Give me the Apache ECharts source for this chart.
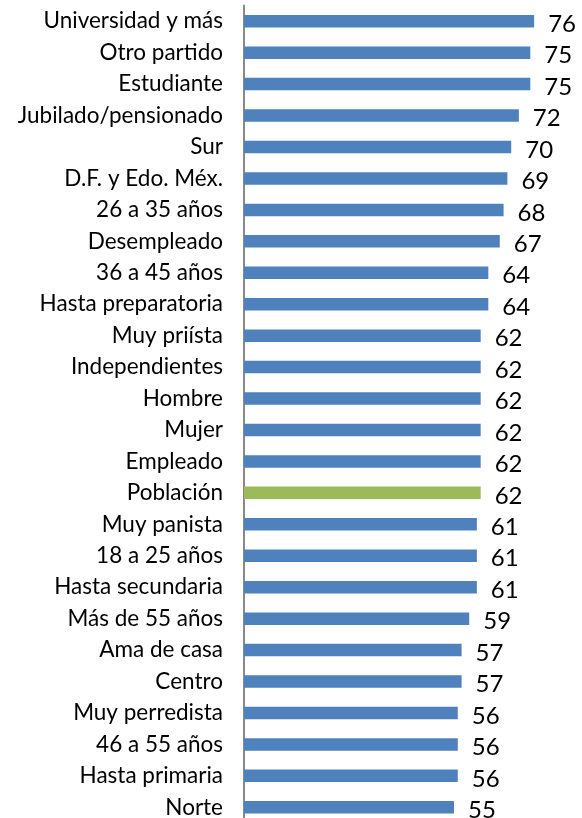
<!DOCTYPE html>
<html>
<head>
<meta charset="utf-8">
<script src="https://cdn.jsdelivr.net/npm/echarts@6/dist/echarts.min.js"></script>
<style>
  html, body { margin: 0; padding: 0; background: #fff; }
  #chart { width: 582px; height: 818px; }
</style>
</head>
<body>
<div id="chart"></div>
<script>
// categories, top to bottom
const categories = [
  'Universidad y más', 'Otro partido', 'Estudiante', 'Jubilado/pensionado', 'Sur',
  'D.F. y Edo. Méx.', '26 a 35 años', 'Desempleado', '36 a 45 años', 'Hasta preparatoria',
  'Muy priísta', 'Independientes', 'Hombre', 'Mujer', 'Empleado',
  'Población', 'Muy panista', '18 a 25 años', 'Hasta secundaria', 'Más de 55 años',
  'Ama de casa', 'Centro', 'Muy perredista', '46 a 55 años', 'Hasta primaria', 'Norte'
]
const values = [
  76, 75, 75, 72, 70,
  69, 68, 67, 64, 64,
  62, 62, 62, 62, 62,
  62, 61, 61, 61, 59,
  57, 57, 56, 56, 56, 55
]
const highlight = 'Población'

const blue  = '#4F81BD'
const green = '#9BBB59'
const font  = 'Lato, "Liberation Sans", sans-serif'

const chart = echarts.init(document.getElementById('chart'), null, { renderer: 'canvas' })

chart.setOption({
  animation: false,
  textStyle: { fontFamily: font },
  grid: {
    left: 244,
    top: 5.5,
    width: 305.4,
    height: 817.5,
    containLabel: false,
    outerBoundsMode: 'none'
  },
  xAxis: {
    type: 'value',
    min: 0,
    max: 80,
    show: false
  },
  yAxis: {
    type: 'category',
    inverse: true,
    data: categories,
    axisLine: { show: true, lineStyle: { color: '#898989', width: 2 } },
    axisTick: { show: false },
    axisLabel: {
      margin: 21,
      color: '#000',
      fontSize: 22.5,
      fontFamily: font
    }
  },
  series: [{
    type: 'bar',
    barWidth: 12.5,
    data: categories.map((c, i) => ({
      value: values[i],
      itemStyle: { color: c === highlight ? green : blue }
    })),
    label: {
      show: true,
      position: 'right',
      distance: 14,
      offset: [0, 3],
      color: '#000',
      fontSize: 24,
      fontFamily: font
    }
  }]
})
</script>
</body>
</html>
